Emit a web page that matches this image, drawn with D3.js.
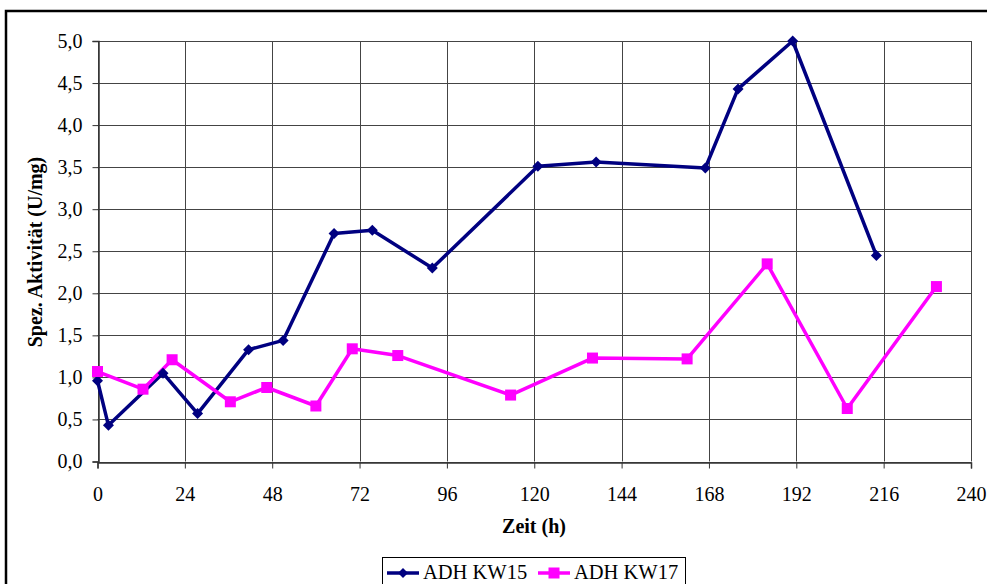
<!DOCTYPE html>
<html><head><meta charset="utf-8">
<script src="https://cdn.jsdelivr.net/npm/d3@7"></script>
<style>body{margin:0;background:#fff}svg{display:block}
svg text{font-family:"Liberation Serif","Times New Roman","DejaVu Serif",serif;}
</style>
</head><body>
<script>
const kw15Time = [0, 3, 18, 27.5, 41.5, 51, 65, 75.5, 92, 121, 137, 167, 176, 191, 214];
const kw15Val  = [0.96, 0.43, 1.05, 0.57, 1.33, 1.44, 2.71, 2.75, 2.30, 3.51, 3.56, 3.49, 4.43, 5.0, 2.45];
const kw17Time = [0, 12.5, 20.5, 36.5, 46.5, 60, 70, 82.5, 113.5, 136, 162, 184, 206, 230.5];
const kw17Val  = [1.07, 0.86, 1.21, 0.71, 0.88, 0.66, 1.34, 1.26, 0.79, 1.23, 1.22, 2.35, 0.63, 2.08];
const xTicks = [0, 24, 48, 72, 96, 120, 144, 168, 192, 216, 240];
const yTicks = [0, 0.5, 1, 1.5, 2, 2.5, 3, 3.5, 4, 4.5, 5];
const seriesNames = ["ADH KW15", "ADH KW17"];
const seriesColors = ["#000080", "#FF00FF"];

const W = 987, H = 584;
const svg = d3.select("body").append("svg").attr("width", W).attr("height", H);
const font = '"Liberation Serif", "Times New Roman", serif';

// outer frame (cut on right/bottom)
svg.append("path").attr("d", `M6,${H+5} L6,11 L${W+5},11`).attr("fill","none")
  .attr("stroke","#000").attr("stroke-width",2.5);

const x = d3.scaleLinear().domain([0, 240]).range([97.5, 971]);
const y = d3.scaleLinear().domain([0, 5]).range([461.5, 41]);

// grid
const g = svg.append("g");
g.selectAll(".hg").data(yTicks).join("line")
  .attr("x1", x(0)).attr("x2", x(240))
  .attr("y1", d => Math.round(y(d))+0.5).attr("y2", d => Math.round(y(d))+0.5)
  .attr("stroke", "#444").attr("stroke-width", 1);
g.selectAll(".vg").data(xTicks).join("line")
  .attr("y1", y(0)).attr("y2", y(5))
  .attr("x1", d => Math.round(x(d))+0.5).attr("x2", d => Math.round(x(d))+0.5)
  .attr("stroke", "#444").attr("stroke-width", 1);

// axes
const xAxis = d3.axisBottom(x).tickValues(xTicks).tickSize(6).tickFormat(d3.format("d"));
const yAxis = d3.axisLeft(y).tickValues(yTicks).tickSize(6).tickFormat(d => d.toFixed(1).replace(".", ","));
const xa = svg.append("g").attr("transform", `translate(0,${Math.round(y(0))+0.5})`).call(xAxis);
const ya = svg.append("g").attr("transform", `translate(${Math.round(x(0))+0.5},0)`).call(yAxis);
[xa, ya].forEach(a => {
  a.attr("font-family", null).attr("font-size", null);
  a.select(".domain").attr("stroke", "#333").attr("stroke-width", 1.5);
  a.selectAll(".tick line").attr("stroke", "#333");
  a.selectAll("text").style("font-family", font).style("font-size", "20px").attr("fill", "#000");
});
xa.selectAll("text").attr("y", 38.5).attr("dy", null);
ya.selectAll("text").attr("x", -16);

// axis titles
svg.append("text").attr("x", 534).attr("y", 533).attr("text-anchor", "middle")
  .style("font-family", font).style("font-weight", "bold").style("font-size", "20px").text("Zeit (h)");
svg.append("text").attr("transform", `translate(42,252) rotate(-90)`).attr("text-anchor", "middle")
  .style("font-family", font).style("font-weight", "bold").style("font-size", "20px").text("Spez. Aktivität (U/mg)");

// lines
const line = d3.line().x(d => x(d[0])).y(d => y(d[1]));
const d15 = kw15Time.map((t, i) => [t, kw15Val[i]]);
const d17 = kw17Time.map((t, i) => [t, kw17Val[i]]);
svg.append("path").datum(d15).attr("d", line).attr("fill", "none")
  .attr("stroke", seriesColors[0]).attr("stroke-width", 3.5).attr("stroke-linejoin", "round");
svg.append("path").datum(d17).attr("d", line).attr("fill", "none")
  .attr("stroke", seriesColors[1]).attr("stroke-width", 3.5).attr("stroke-linejoin", "round");

const diamond = (cx, cy, r) => `M${cx},${cy-r}L${cx+r},${cy}L${cx},${cy+r}L${cx-r},${cy}Z`;
svg.selectAll(".m15").data(d15).join("path")
  .attr("d", d => diamond(x(d[0]), y(d[1]), 5.5)).attr("fill", seriesColors[0]);
svg.selectAll(".m17").data(d17).join("rect")
  .attr("x", d => x(d[0]) - 5.5).attr("y", d => y(d[1]) - 5.5).attr("width", 11).attr("height", 11)
  .attr("fill", seriesColors[1]);

// legend
const lg = svg.append("g");
lg.append("rect").attr("x", 382.5).attr("y", 557.5).attr("width", 303).attr("height", 40)
  .attr("fill", "#fff").attr("stroke", "#000").attr("stroke-width", 1);
const items = [{x: 387, name: seriesNames[0], c: seriesColors[0], m: "d"}, {x: 538, name: seriesNames[1], c: seriesColors[1], m: "s"}];
items.forEach(it => {
  const cy = 573;
  lg.append("line").attr("x1", it.x).attr("x2", it.x + 32).attr("y1", cy).attr("y2", cy)
    .attr("stroke", it.c).attr("stroke-width", 3.5);
  if (it.m === "d") lg.append("path").attr("d", diamond(it.x + 16, cy, 5)).attr("fill", it.c);
  else lg.append("rect").attr("x", it.x + 10.5).attr("y", cy - 5.5).attr("width", 11).attr("height", 11).attr("fill", it.c);
  lg.append("text").attr("x", it.x + 36).attr("y", 579).style("font-family", font).style("font-size", "20.5px")
    .text(it.name);
});
</script>
</body></html>
